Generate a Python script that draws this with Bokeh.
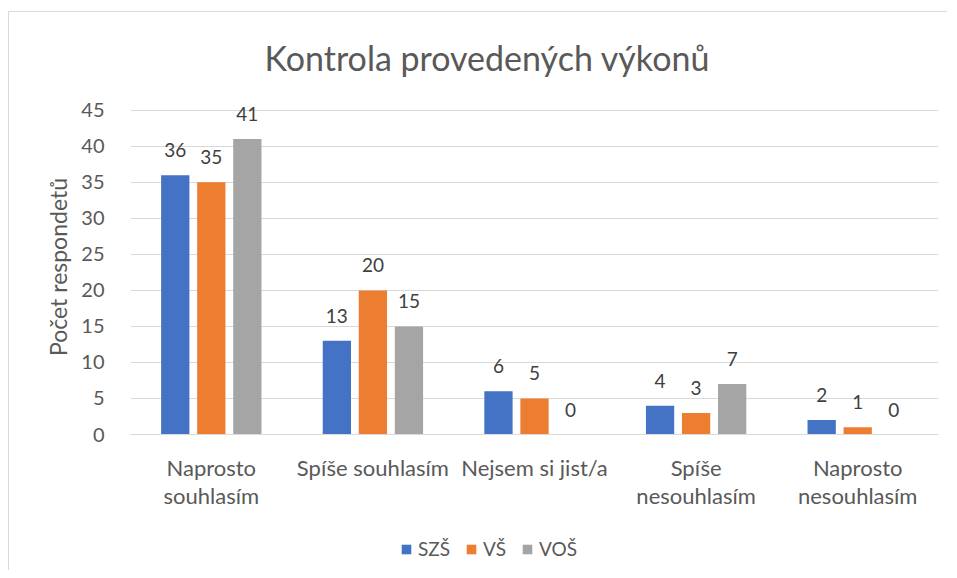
from bokeh.plotting import figure
from bokeh.layouts import column
from bokeh.models import ColumnDataSource, FactorRange, Legend, LegendItem, Range1d
from bokeh.transform import dodge
from bokeh.core.properties import value
from bokeh.embed import file_html
from bokeh.resources import INLINE

categories = ["Naprosto\nsouhlasím", "Spíše souhlasím", "Nejsem si jist/a",
              "Spíše\nnesouhlasím", "Naprosto\nnesouhlasím"]
series_names = ["SZŠ", "VŠ", "VOŠ"]
szs = [36, 13, 6, 4, 2]
vs = [35, 20, 5, 3, 1]
vos = [41, 15, 0, 7, 0]
y_ticks = [0, 5, 10, 15, 20, 25, 30, 35, 40, 45]

colors = ["#4472C4", "#ED7D31", "#A5A5A5"]
offsets = [-0.223, 0.0, 0.223]
FONT = "Lato"

src = ColumnDataSource(dict(cat=categories, SZS=szs, VS=vs, VOS=vos,
                            lSZS=[str(v) for v in szs], lVS=[str(v) for v in vs],
                            lVOS=[str(v) for v in vos]))

xr = FactorRange(factors=categories, range_padding=0)
p = figure(x_range=xr, y_range=(0, 46.5), width=938, height=502,
           output_backend="svg", toolbar_location=None,
           min_border_left=121, min_border_right=9,
           min_border_top=87, min_border_bottom=80)

p.title.text = "Kontrola provedených výkonů"
p.title.text_font = FONT
p.title.text_font_size = "34px"
p.title.text_font_style = "normal"
p.title.text_color = "#595959"
p.title.align = "left"
p.title.offset = 134
p.title.standoff = 43

for col, lab, color, off in zip(["SZS", "VS", "VOS"], ["lSZS", "lVS", "lVOS"],
                                colors, offsets):
    p.vbar(x=dodge("cat", off, range=xr), top=col, width=0.175,
           source=src, fill_color=color, line_color=None)
    p.text(x=dodge("cat", off, range=xr), y=col, text=lab, source=src,
           text_font=value(FONT), text_font_size="19px", text_color="#404040",
           text_align="center", text_baseline="middle", y_offset=-25)

p.yaxis.ticker = y_ticks
p.yaxis.axis_line_color = None
p.yaxis.major_tick_line_color = None
p.yaxis.minor_tick_line_color = None
p.yaxis.major_label_text_font = FONT
p.yaxis.major_label_text_font_size = "20px"
p.yaxis.major_label_text_color = "#595959"
p.yaxis.major_label_standoff = 20
p.yaxis.axis_label = "Počet respondetů"
p.yaxis.axis_label_text_font = FONT
p.yaxis.axis_label_text_font_size = "23px"
p.yaxis.axis_label_text_font_style = "normal"
p.yaxis.axis_label_text_color = "#595959"
p.yaxis.axis_label_standoff = 6

p.xaxis.axis_line_color = "#d9d9d9"
p.xaxis.major_tick_line_color = None
p.xaxis.minor_tick_line_color = None
p.xaxis.major_label_text_font = FONT
p.xaxis.major_label_text_font_size = "22px"
p.xaxis.major_label_text_color = "#595959"
p.xaxis.major_label_standoff = 13
p.xaxis.major_label_text_line_height = 1.05

p.xgrid.grid_line_color = None
p.ygrid.grid_line_color = "#d9d9d9"
p.outline_line_color = None

# legend strip below the chart; its swatch renderers are hidden (only the legend shows them)
lg = figure(width=938, height=56, x_range=xr, y_range=Range1d(-2, -1),
            output_backend="svg", toolbar_location=None,
            min_border=0, min_border_left=0, min_border_right=0,
            min_border_top=0, min_border_bottom=0)
lg.axis.visible = False
lg.grid.visible = False
lg.outline_line_color = None
items = []
for col, color, off, name in zip(["SZS", "VS", "VOS"], colors, offsets, series_names):
    r = lg.vbar(x=dodge("cat", off, range=xr), top=col, bottom=col, width=0.175,
                source=src, fill_color=color, line_color=None)
    r.visible = False
    items.append(LegendItem(label=name, renderers=[r]))
legend = Legend(items=items, orientation="horizontal", location=(270, 10),
                padding=0, margin=0, spacing=15, glyph_width=12, glyph_height=12,
                label_standoff=6, label_text_font=FONT, label_text_font_size="19px",
                label_text_color="#595959", border_line_color=None,
                background_fill_alpha=0)
lg.add_layout(legend)

layout = column(p, lg, spacing=0,
                styles={"border-left": "1px solid #d9d9d9", "border-top": "1px solid #d9d9d9",
                        "margin-top": "11px", "margin-left": "8px"})

open("out.html", "w").write(file_html(layout, INLINE))
